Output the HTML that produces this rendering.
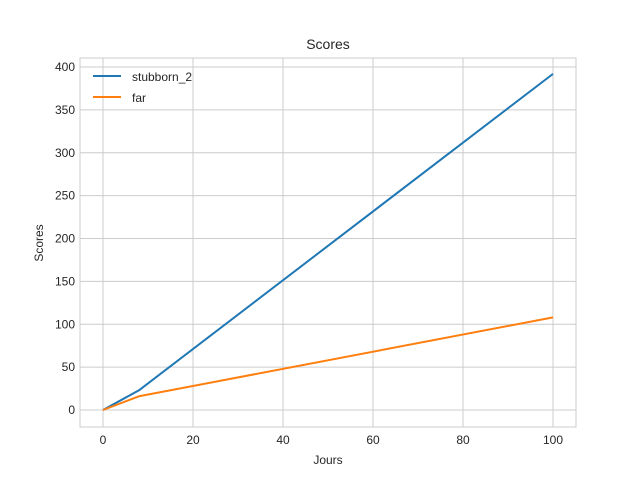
<!DOCTYPE html>
<html><head><meta charset="utf-8"><style>
body{margin:0;background:#fff;}
svg{font-family:"Liberation Sans","DejaVu Sans",sans-serif;}
</style></head><body>
<svg id="chart" width="640" height="480">
<rect width="640" height="480" fill="#fff"/>
<g id="grid"></g><g id="axes"></g><g id="lines"></g>
<text x="328" y="49" text-anchor="middle" font-size="14" fill="#262626">Scores</text>
<text x="328" y="464" text-anchor="middle" font-size="12" fill="#262626">Jours</text>
<text x="0" y="0" transform="translate(43,243) rotate(-90)" text-anchor="middle" font-size="12" fill="#262626">Scores</text>
<g>
<line x1="93" y1="76" x2="121" y2="76" stroke="#1f77b4" stroke-width="2"/>
<text x="132" y="81" font-size="12" fill="#262626">stubborn_2</text>
<line x1="93" y1="97" x2="121" y2="97" stroke="#ff7f0e" stroke-width="2"/>
<text x="132" y="102" font-size="12" fill="#262626">far</text>
</g>
</svg>
<script>
const days = [0, 8, 100];
const stubborn2 = [0, 23, 392];
const far = [0, 16, 108];
const xTicks = [0, 20, 40, 60, 80, 100];
const yTicks = [0, 50, 100, 150, 200, 250, 300, 350, 400];
const NS = "http://www.w3.org/2000/svg";
const L = 80, R = 576, T = 58, B = 427;
function xs(v){ return 103 + v * 4.5; }
function ys(v){ return 410 - v * 0.8575; }
function mk(tag, attrs, parent){ const e = document.createElementNS(NS, tag); for (const k in attrs) e.setAttribute(k, attrs[k]); parent.appendChild(e); return e; }
const grid = document.getElementById('grid'), axes = document.getElementById('axes'), lines = document.getElementById('lines');
xTicks.forEach(t => {
  const g = mk('line', {x1: xs(t), x2: xs(t), y1: T, y2: B, stroke: '#cccccc', 'stroke-width': 1}, grid);
  
  
  const tx = mk('text', {x: xs(t), y: B + 17, 'text-anchor': 'middle', 'font-size': 12, fill: '#262626'}, axes);
  tx.textContent = t;
  
  
});
yTicks.forEach(t => {
  const g = mk('line', {x1: L, x2: R, y1: ys(t), y2: ys(t), stroke: '#cccccc', 'stroke-width': 1}, grid);
  
  
  const tx = mk('text', {x: L - 5, y: ys(t) + 4, 'text-anchor': 'end', 'font-size': 12, fill: '#262626'}, axes);
  tx.textContent = t;
  
  
});
const fr = mk('rect', {x: L, y: T, width: R - L, height: B - T, fill: 'none', stroke: '#cccccc', 'stroke-width': 1}, axes);


function series(vals, color, name){
  const pts = days.map((d, i) => xs(d) + ',' + ys(vals[i])).join(' ');
  const p = mk('polyline', {points: pts, fill: 'none', stroke: color, 'stroke-width': 2, 'stroke-linejoin': 'round'}, lines);
  
  
}
series(stubborn2, '#1f77b4', 'stubborn-2-line');
series(far, '#ff7f0e', 'far-line');
</script>
</body></html>
